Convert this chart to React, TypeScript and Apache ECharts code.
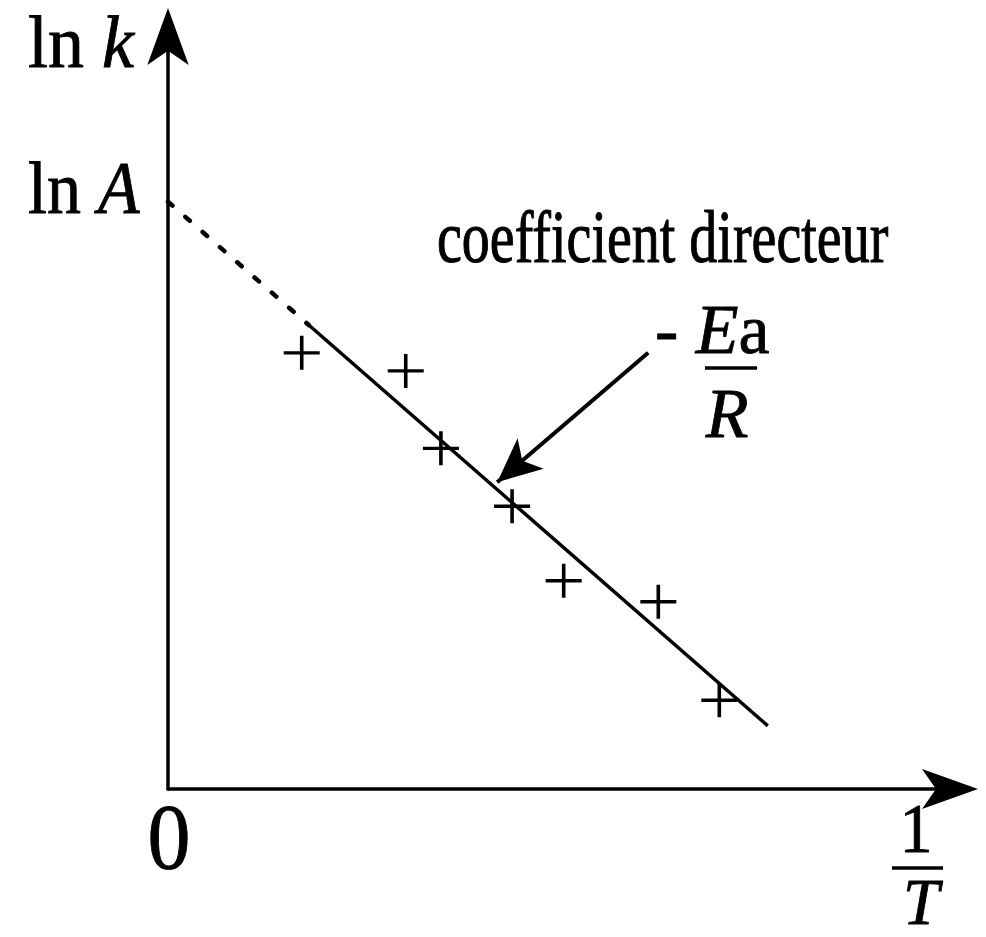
import React, { useEffect, useRef } from "react";
import * as echarts from "echarts";

// Measured points (1/T, ln k) in arbitrary units
const invT = [1.71, 3.04, 3.49, 4.4, 5.06, 6.27, 7.05];
const lnK = [5.8, 5.56, 4.53, 3.76, 2.77, 2.49, 1.18];

// Fitted straight line: extrapolated part (dotted) and fitted part (solid)
const fitDotted = [
  [0, 7.81],
  [1.8, 6.17],
];
const fitSolid = [
  [1.8, 6.17],
  [7.67, 0.84],
];

// Annotation arrow pointing at the slope
const slopeArrow = [
  [6.14, 5.8],
  [4.21, 4.08],
];

const X_MAX = 10;
const Y_MAX = 10;
const SERIF = "'Liberation Serif', 'Times New Roman', serif";

function textEl(
  text: string,
  x: number,
  y: number,
  size: number,
  align: string,
  scaleY: number,
  rich?: any,
  scaleX = 1
) {
  return {
    type: "text",
    x,
    y,
    scaleX,
    scaleY,
    silent: true,
    style: rich
      ? {
          text,
          font: `${size}px ${SERIF}`,
          fill: "#000",
          align,
          verticalAlign: "middle",
          rich,
        }
      : {
          text,
          font: `${size}px ${SERIF}`,
          fill: "#000",
          stroke: "#000",
          lineWidth: 0.8,
          align,
          verticalAlign: "middle",
        },
  };
}

function richFonts(size: number) {
  return {
    a: { font: `${size}px ${SERIF}`, fill: "#000", stroke: "#000", lineWidth: 0.8 },
    b: { font: `italic ${size}px ${SERIF}`, fill: "#000", stroke: "#000", lineWidth: 0.8 },
  };
}

export default function App() {
  const ref = useRef<HTMLDivElement>(null);

  useEffect(() => {
    if (!ref.current) return;
    const chart = echarts.init(ref.current, null, { renderer: "svg" });

    const points = invT.map((x, i) => [x, lnK[i]]);

    chart.setOption({
      animation: false,
      backgroundColor: "#fff",
      grid: { left: 168, right: 36, top: 37, bottom: 148 },
      xAxis: {
        type: "value",
        min: 0,
        max: X_MAX,
        axisLine: {
          show: true,
          onZero: false,
          symbol: ["none", "arrow"],
          symbolSize: [30, 56],
          symbolOffset: [0, 28],
          lineStyle: { color: "#000", width: 3.5 },
        },
        axisTick: { show: false },
        axisLabel: { show: false },
        splitLine: { show: false },
      },
      yAxis: {
        type: "value",
        min: 0,
        max: Y_MAX,
        axisLine: {
          show: true,
          onZero: false,
          symbol: ["none", "arrow"],
          symbolSize: [31, 57],
          symbolOffset: [0, 29],
          lineStyle: { color: "#000", width: 3.5 },
        },
        axisTick: { show: false },
        axisLabel: { show: false },
        splitLine: { show: false },
      },
      series: [
        {
          type: "line",
          data: fitDotted,
          showSymbol: false,
          silent: true,
          lineStyle: { color: "#000", width: 4.5, type: [6, 17], cap: "round" },
        },
        {
          type: "line",
          data: fitSolid,
          showSymbol: false,
          silent: true,
          lineStyle: { color: "#000", width: 3.5 },
        },
        {
          type: "scatter",
          data: points,
          symbol: "path://M18,0L18,34M0,17L36,17",
          symbolSize: [36, 34],
          silent: true,
          itemStyle: {
            color: "#000",
            borderColor: "#000",
            borderWidth: 3.5,
            opacity: 1,
          },
          markLine: {
            silent: true,
            symbol: ["none", "arrow"],
            symbolSize: [30, 44],
            label: { show: false },
            lineStyle: { color: "#000", width: 4, type: "solid", opacity: 1 },
            data: [[{ coord: slopeArrow[0] }, { coord: slopeArrow[1] }]],
          },
        },
      ],
      graphic: [
        textEl("{a|ln }{b|k}", 28, 67 - 0.34 * 72 * 1.04, 72, "left", 1.04, richFonts(72)),
        textEl("{a|ln }{b|A}", 28, 213 - 0.34 * 68 * 1.09, 68, "left", 1.09, richFonts(68)),
        textEl("0", 169, 868 - 0.34 * 86 * 1.08, 86, "center", 1.08),
        textEl("coefficient directeur", 437, 262 - 0.34 * 56 * 1.32, 56, "left", 1.32),
        // 1 / T on the abscissa
        textEl("1", 916, 853 - 0.34 * 66 * 1.05, 66, "center", 1.05),
        {
          type: "line",
          silent: true,
          shape: { x1: 892, y1: 868, x2: 943, y2: 868 },
          style: { stroke: "#000", lineWidth: 3.5 },
        },
        textEl("{b|T}", 921, 924 - 0.34 * 60 * 1.08, 60, "center", 1.08, richFonts(60), 1.08),
        // - Ea / R
        textEl("{a|- }{b|E}{a|a}", 655, 353 - 0.34 * 70, 70, "left", 1.0, richFonts(70)),
        {
          type: "line",
          silent: true,
          shape: { x1: 705, y1: 368, x2: 757, y2: 368 },
          style: { stroke: "#000", lineWidth: 3.5 },
        },
        textEl("{b|R}", 727, 437 - 0.34 * 70, 70, "center", 1.0, richFonts(70)),
      ],
    });

    return () => chart.dispose();
  }, []);

  return (
    <div
      ref={ref}
      style={{ position: "fixed", left: 0, top: 0, width: 986, height: 937 }}
    />
  );
}
